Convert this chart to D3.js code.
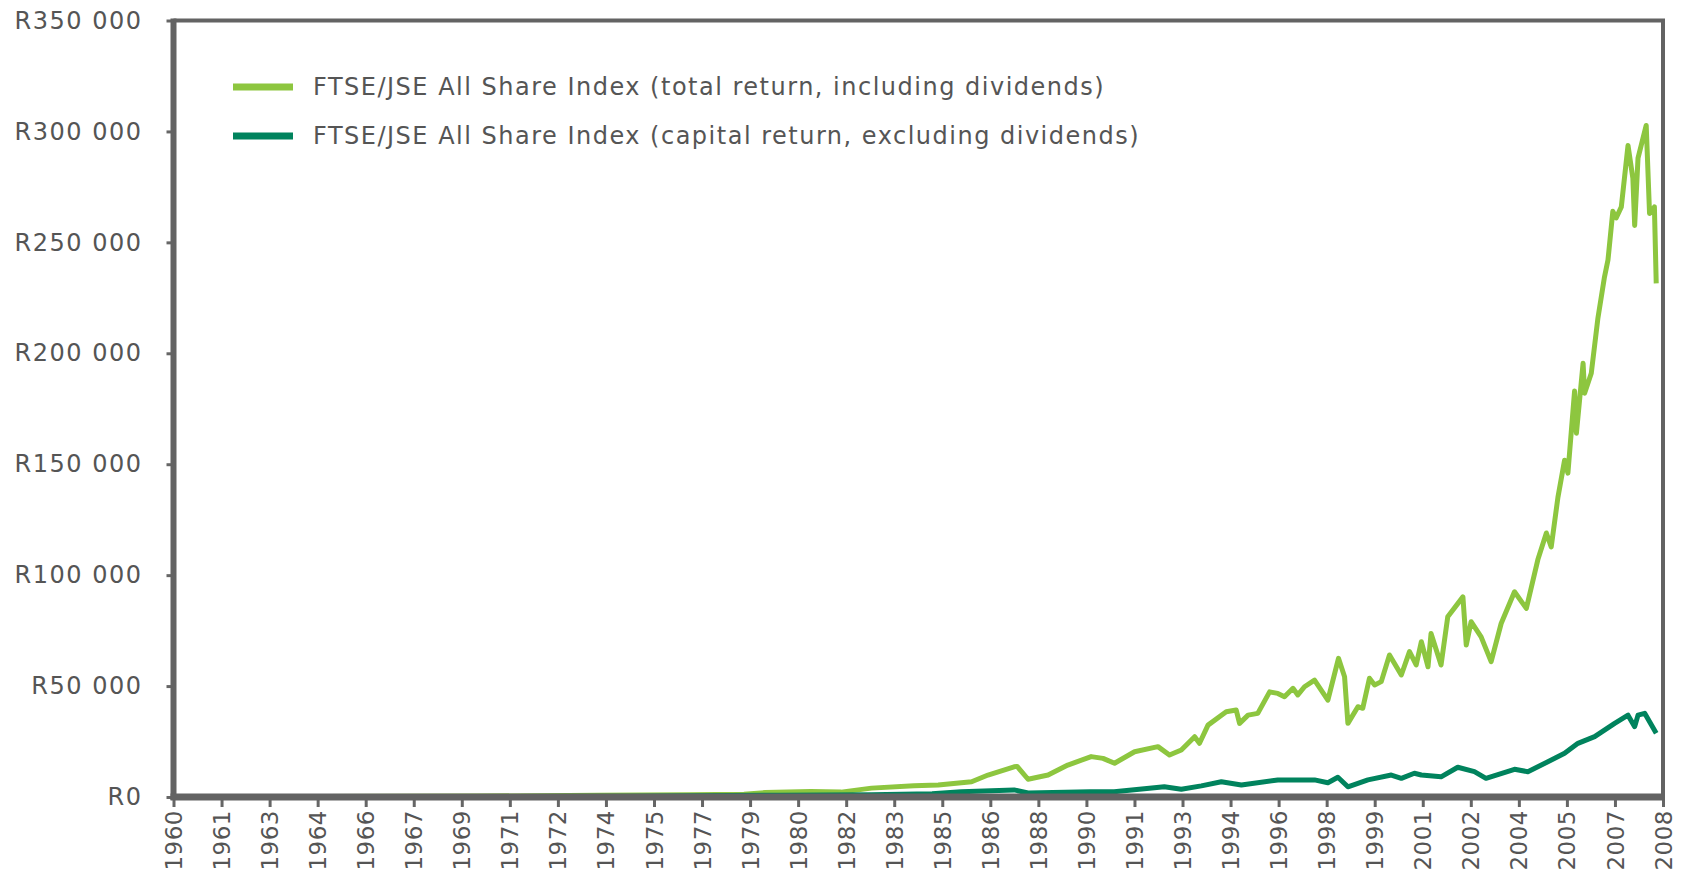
<!DOCTYPE html>
<html>
<head>
<meta charset="utf-8">
<script src="https://cdn.jsdelivr.net/npm/d3@7"></script>
<style>
  body { margin: 0; background: #fff; }
  svg { display: block; }
  text { font-family: "DejaVu Sans", Verdana, sans-serif; fill: #555; }
</style>
</head>
<body>
<svg width="1686" height="875"></svg>
<script>
// labels on the date axis (one every 19 months)
var xLabels = ['1960','1961','1963','1964','1966','1967','1969','1971','1972','1974','1975','1977',
  '1979','1980','1982','1983','1985','1986','1988','1990','1991','1993','1994','1996','1998','1999',
  '2001','2002','2004','2005','2007','2008'];
var yTicks = [0, 50000, 100000, 150000, 200000, 250000, 300000, 350000];

var seriesNames = [
  'FTSE/JSE All Share Index (total return, including dividends)',
  'FTSE/JSE All Share Index (capital return, excluding dividends)'
];

// [decimal year, rand]
var totalReturn = [
  [1960.0,100],[1965.0,200],[1970.0,400],[1974.0,800],[1977.0,1000],[1978.8,1200],[1979.5,2000],
  [1981.0,2500],[1982.0,2200],[1983.0,4000],[1984.4,5100],[1985.2,5400],[1986.3,6900],[1986.84,9900],
  [1987.7,13600],[1987.8,13800],[1988.16,8000],[1988.82,9900],[1989.47,14400],[1990.24,18200],
  [1990.63,17400],[1991.01,15200],[1991.67,20400],[1992.44,22700],[1992.82,18900],[1993.21,21200],
  [1993.65,27200],[1993.81,24200],[1994.09,32400],[1994.69,38400],[1995.02,39200],[1995.13,33200],
  [1995.41,36900],[1995.73,37700],[1996.12,47400],[1996.39,46700],[1996.61,45200],[1996.89,49000],
  [1997.05,46000],[1997.27,49700],[1997.60,52700],[1998.04,43700],[1998.39,62500],[1998.59,54200],
  [1998.70,33200],[1999.03,40700],[1999.19,40000],[1999.41,53500],[1999.58,50500],[1999.80,52000],
  [2000.07,64000],[2000.46,55000],[2000.73,65500],[2000.95,59500],[2001.12,70000],[2001.34,58700],
  [2001.44,73700],[2001.77,59500],[2001.99,81200],[2002.49,90200],[2002.60,68500],[2002.76,79000],
  [2003.09,72200],[2003.42,61000],[2003.75,78200],[2004.19,92500],[2004.58,85000],[2004.96,107000],
  [2005.24,119000],[2005.40,112700],[2005.62,135000],[2005.84,151800],[2005.95,146000],[2006.17,183000],
  [2006.23,164000],[2006.45,195500],[2006.50,182000],[2006.72,191000],[2006.94,216000],[2007.15,234000],
  [2007.27,242000],[2007.43,264000],[2007.54,261000],[2007.71,266000],[2007.93,293700],[2008.09,279000],
  [2008.15,257600],[2008.26,288000],[2008.53,302700],[2008.64,263000],[2008.80,266000],[2008.86,231500]
];

var capitalReturn = [
  [1960.0,100],[1970.0,200],[1975.0,300],[1980.0,800],[1983.0,1000],[1985.0,1500],[1985.96,2400],
  [1987.7,3200],[1988.16,1800],[1990.2,2400],[1991.0,2400],[1992.65,4600],[1993.21,3500],[1993.87,5000],
  [1994.53,6900],[1995.19,5400],[1996.39,7700],[1997.60,7700],[1998.04,6400],[1998.37,8900],
  [1998.70,4600],[1999.36,7700],[2000.13,9900],[2000.46,8400],[2000.89,10700],[2001.12,9900],
  [2001.77,9100],[2002.32,13400],[2002.87,11400],[2003.25,8400],[2004.19,12500],[2004.63,11400],
  [2005.29,15900],[2005.84,19700],[2006.28,24200],[2006.83,27200],[2007.49,33200],[2007.93,36900],
  [2008.15,31700],[2008.26,36900],[2008.48,37700],[2008.86,28700]
];

var colors = ['#8dc63f', '#00835d'];

var main = function() {
  var svg = d3.select('svg');
  var mLeft = 173.5, mRight = 1663, mTop = 20.5, mBottom = 797;

  var x = d3.scaleLinear()
    .domain([1960, 1960 + (xLabels.length - 1) * 19 / 12])
    .range([mLeft, mRight]);
  var y = d3.scaleLinear().domain([0, 350000]).range([mBottom, mTop]);

  var fmt = d3.formatLocale({ decimal: '.', thousands: ' ', grouping: [3], currency: ['R', ''] }).format('$,');

  // lines
  var line = d3.line()
    .x(function(d) { return x(d[0]); })
    .y(function(d) { return y(d[1]); });

  [totalReturn, capitalReturn].forEach(function(s, i) {
    svg.append('path')
      .datum(s)
      .attr('d', line)
      .attr('fill', 'none')
      .attr('stroke', colors[i])
      .attr('stroke-width', 5)
      .attr('stroke-linejoin', 'round');
  });

  // y axis ticks + labels
  var yAxis = d3.axisLeft(y).tickValues(yTicks).tickSize(7).tickPadding(24).tickFormat(fmt);
  var gy = svg.append('g').attr('transform', 'translate(' + mLeft + ',0)').call(yAxis);
  gy.select('.domain').remove();
  gy.selectAll('line').attr('stroke', '#666').attr('stroke-width', 3);
  gy.selectAll('text')
    .style('font-size', '24px')
    .style('letter-spacing', '1.5px')
    .attr('fill', '#555');

  // x axis ticks + labels
  var xTickPos = xLabels.map(function(l, i) { return 1960 + i * 19 / 12; });
  var xAxis = d3.axisBottom(x).tickValues(xTickPos).tickSize(10)
    .tickFormat(function(d, i) { return xLabels[i]; });
  var gx = svg.append('g').attr('transform', 'translate(0,' + mBottom + ')').call(xAxis);
  gx.select('.domain').remove();
  gx.selectAll('line').attr('stroke', '#666').attr('stroke-width', 3);
  gx.selectAll('text')
    .style('font-size', '23px')
    .style('letter-spacing', '0.5px')
    .attr('fill', '#555')
    .attr('text-anchor', 'end')
    .attr('dy', '0.35em')
    .attr('transform', 'translate(0,13) rotate(-90)')
    .attr('x', 0).attr('y', 0);

  // frame
  svg.append('line').attr('x1', mLeft).attr('x2', mLeft).attr('y1', mTop - 2).attr('y2', mBottom + 3)
    .attr('stroke', '#636363').attr('stroke-width', 6);
  svg.append('line').attr('x1', mLeft - 3).attr('x2', mRight + 2).attr('y1', mBottom).attr('y2', mBottom)
    .attr('stroke', '#636363').attr('stroke-width', 7);
  svg.append('line').attr('x1', mLeft).attr('x2', mRight + 2).attr('y1', mTop).attr('y2', mTop)
    .attr('stroke', '#636363').attr('stroke-width', 4);
  svg.append('line').attr('x1', mRight).attr('x2', mRight).attr('y1', mTop).attr('y2', mBottom)
    .attr('stroke', '#636363').attr('stroke-width', 4);

  // legend
  var legend = svg.append('g');
  seriesNames.forEach(function(name, i) {
    var ly = 87 + i * 49;
    legend.append('line')
      .attr('x1', 233).attr('x2', 293).attr('y1', ly).attr('y2', ly)
      .attr('stroke', colors[i]).attr('stroke-width', 7);
    legend.append('text')
      .attr('x', 313).attr('y', ly).attr('dy', '0.35em')
      .style('font-size', '24px')
      .style('letter-spacing', '1.5px')
      .text(name);
  });
};

main();
</script>
</body>
</html>
